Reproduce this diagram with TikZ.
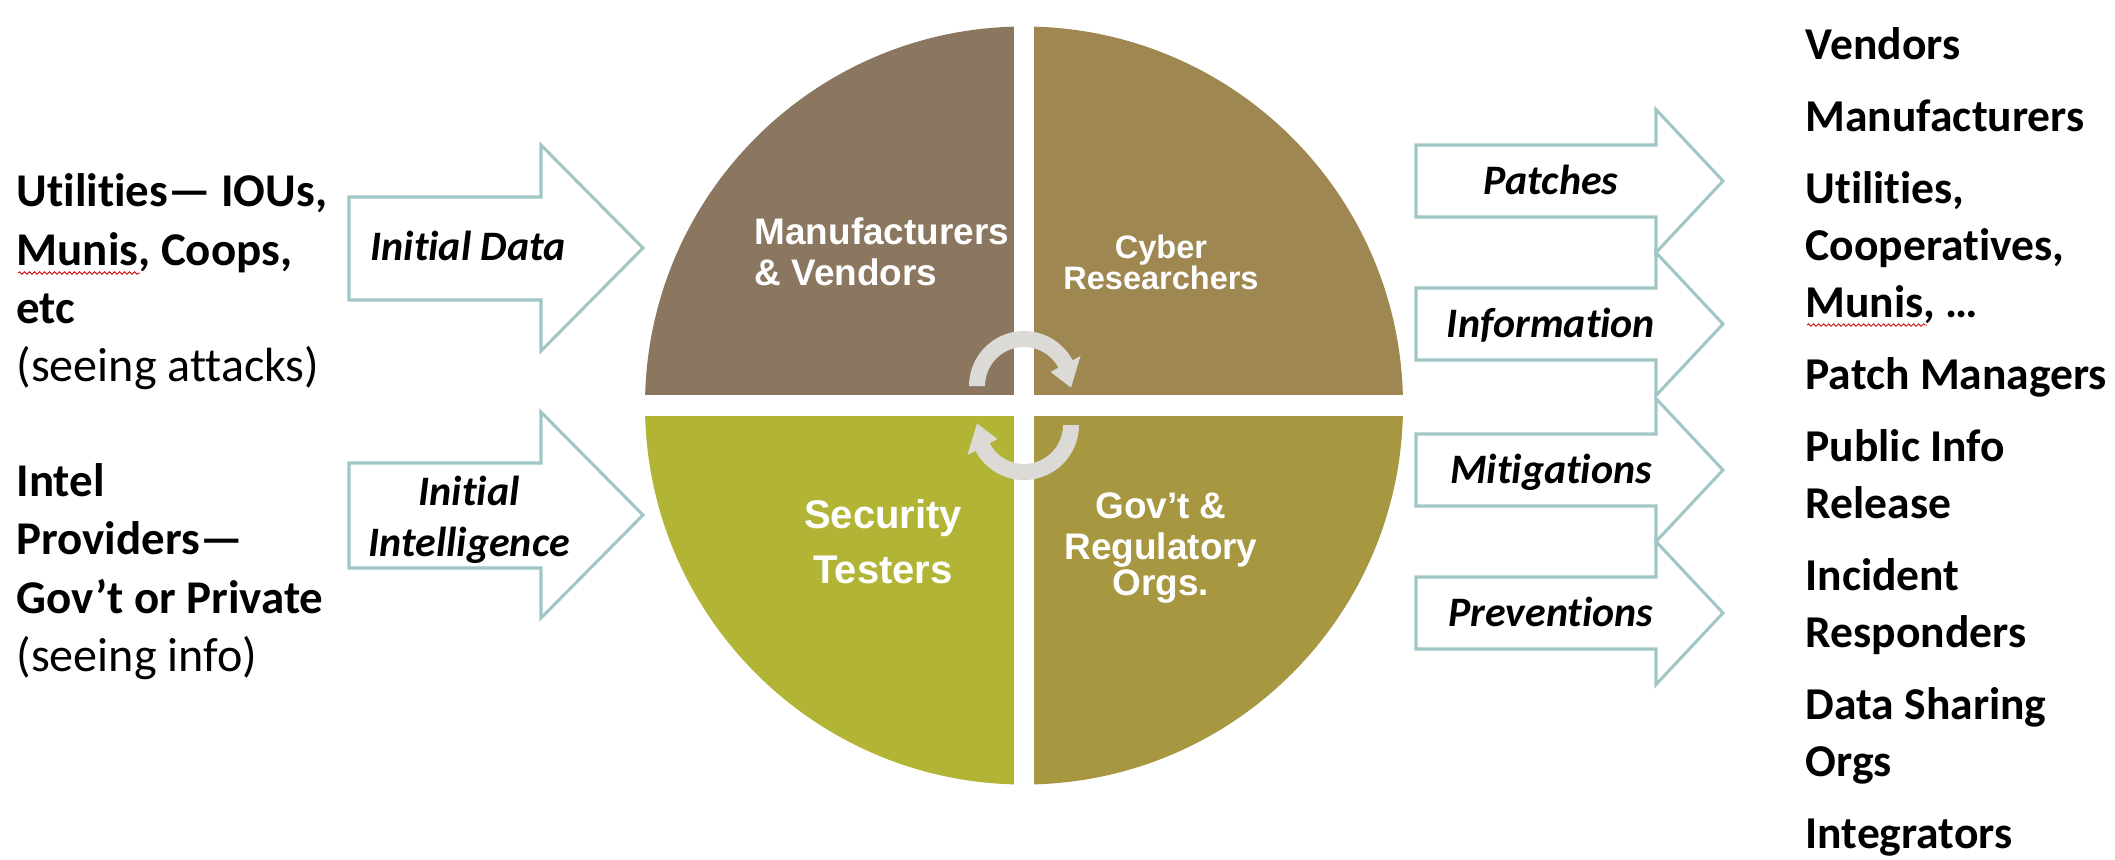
\documentclass[tikz,border=0pt]{standalone}
\usepackage{fontspec}
\setmainfont{Carlito}[Ligatures=NoCommon]
\newfontfamily\arialfont{Liberation Sans}
\usetikzlibrary{decorations.pathmorphing}

\definecolor{qTL}{RGB}{139,119,96}
\definecolor{qTR}{RGB}{158,135,80}
\definecolor{qBL}{RGB}{178,180,54}
\definecolor{qBR}{RGB}{166,151,64}
\definecolor{arrowline}{RGB}{160,198,198}
\definecolor{cyclegray}{RGB}{220,218,214}

\tikzset{
  flow/.style={draw=arrowline, line width=1.1pt, fill=white, line join=miter},
  sidetext/.style={font=\fontsize{16.9}{20}\selectfont\bfseries, inner sep=0pt, anchor=base west},
  sidenote/.style={font=\fontsize{17.3}{20}\selectfont, inner sep=0pt, anchor=base west},
  rightlist/.style={font=\fontsize{16.4}{20}\selectfont\bfseries, inner sep=0pt, anchor=base west},
  flowlabel/.style={font=\fontsize{15.1}{18}\selectfont\bfseries\itshape, inner sep=0pt, anchor=base},
  quadtext/.style={text=white, inner sep=0pt},
  spell/.style={draw=red!80!black, line width=0.3pt, decorate,
    decoration={snake, amplitude=0.45pt, segment length=1.8pt}}
}

\begin{document}
\begin{tikzpicture}[x=0.36pt, y=-0.36pt]
  \fill[white] (0,0) rectangle (2115,859);
  \useasboundingbox (0,0) rectangle (2115,859);

  % four quadrants of the central disc, split by a white cross
  \begin{scope}
    \clip (1024,405.5) circle[radius=379];
    \fill[qTL] (600,0)   rectangle (1014,395);
    \fill[qTR] (1034,0)  rectangle (1450,395);
    \fill[qBL] (600,416) rectangle (1014,859);
    \fill[qBR] (1034,416) rectangle (1450,859);
  \end{scope}

  % circular arrows in the middle
  \fill[cyclegray] (969,386) arc[start angle=180, end angle=332, radius=55]
    -- (1080.5,356) -- (1071,387.6) -- (1050.5,371.9) -- (1058.4,367.7)
    arc[start angle=332, end angle=180, radius=39] -- cycle;
  \fill[cyclegray] (1079,425) arc[start angle=0, end angle=152, radius=55]
    -- (967.5,455) -- (977,423.4) -- (997.5,439.1) -- (989.6,443.3)
    arc[start angle=152, end angle=0, radius=39] -- cycle;

  % quadrant labels
  \node[quadtext, anchor=base west, font=\arialfont\bfseries\fontsize{13.3}{15}\selectfont] (mv1) at (754,244) {Manufacturers};
  \node[quadtext, anchor=base west, font=\arialfont\bfseries\fontsize{13.3}{15}\selectfont] (mv2) at (754,285) {\& Vendors};
  \node[quadtext, anchor=base, font=\arialfont\bfseries\fontsize{11.7}{14}\selectfont] (cr1) at (1161,258) {Cyber};
  \node[quadtext, anchor=base, font=\arialfont\bfseries\fontsize{11.7}{14}\selectfont] (cr2) at (1161,289) {Researchers};
  \node[quadtext, anchor=base, font=\arialfont\bfseries\fontsize{14.4}{17}\selectfont] (st1) at (883,528) {Security};
  \node[quadtext, anchor=base, font=\arialfont\bfseries\fontsize{14.4}{17}\selectfont] (st2) at (883,583) {Testers};
  \node[quadtext, anchor=base, font=\arialfont\bfseries\fontsize{13.3}{15}\selectfont] (gr1) at (1161,518) {Gov’t \&};
  \node[quadtext, anchor=base, font=\arialfont\bfseries\fontsize{13.3}{15}\selectfont] (gr2) at (1161,559) {Regulatory};
  \node[quadtext, anchor=base, font=\arialfont\bfseries\fontsize{13.3}{15}\selectfont] (gr3) at (1161,595) {Orgs.};

  % incoming block arrows
  \draw[flow] (349,197) -- (541,197) -- (541,145) -- (643,248) -- (541,351) -- (541,300) -- (349,300) -- cycle;
  \draw[flow] (349,463) -- (541,463) -- (541,412) -- (643,515) -- (541,618) -- (541,568) -- (349,568) -- cycle;
  \node[flowlabel] (inData) at (468,260) {Initial Data};
  \node[flowlabel] (inInt1) at (469,505) {Initial};
  \node[flowlabel] (inInt2) at (469,556) {Intelligence};

  % outgoing block arrows
  \foreach \cy in {181,324,470,613}{
    \draw[flow] (1416,\cy-36) -- (1656,\cy-36) -- (1656,\cy-71.5) -- (1723,\cy)
      -- (1656,\cy+71.5) -- (1656,\cy+36) -- (1416,\cy+36) -- cycle;
  }
  \node[flowlabel] (outPatch) at (1551,194) {Patches};
  \node[flowlabel] (outInfo)  at (1551,337) {Information};
  \node[flowlabel] (outMitig) at (1551,483) {Mitigations};
  \node[flowlabel] (outPrev)  at (1551,626) {Preventions};

  % sources on the left
  \node[sidetext] (srcA1) at (16,206) {Utilities— IOUs,};
  \node[sidetext] (srcA2) at (16,265) {Munis, Coops,};
  \node[sidetext] (srcA3) at (16,323) {etc};
  \node[sidenote] (srcA4) at (16,381) {(seeing attacks)};
  \node[sidetext] (srcB1) at (16,496) {Intel};
  \node[sidetext] (srcB2) at (16,554) {Providers—};
  \node[sidetext] (srcB3) at (16,613) {Gov’t or Private};
  \node[sidenote] (srcB4) at (16,671) {(seeing info)};
  \draw[spell] (18,273) -- (140,273);

  % recipients on the right
  \node[rightlist] (dst1)  at (1805,59)  {Vendors};
  \node[rightlist] (dst2)  at (1805,131) {Manufacturers};
  \node[rightlist] (dst3)  at (1805,203) {Utilities,};
  \node[rightlist] (dst4)  at (1805,260) {Cooperatives,};
  \node[rightlist] (dst5)  at (1805,317) {Munis, …};
  \node[rightlist] (dst6)  at (1805,389) {Patch Managers};
  \node[rightlist] (dst7)  at (1805,461) {Public Info};
  \node[rightlist] (dst8)  at (1805,518) {Release};
  \node[rightlist] (dst9)  at (1805,590) {Incident};
  \node[rightlist] (dst10) at (1805,647) {Responders};
  \node[rightlist] (dst11) at (1805,719) {Data Sharing};
  \node[rightlist] (dst12) at (1805,776) {Orgs};
  \node[rightlist] (dst13) at (1805,848) {Integrators};
  \draw[spell] (1807,325) -- (1927,325);
\end{tikzpicture}
\end{document}
